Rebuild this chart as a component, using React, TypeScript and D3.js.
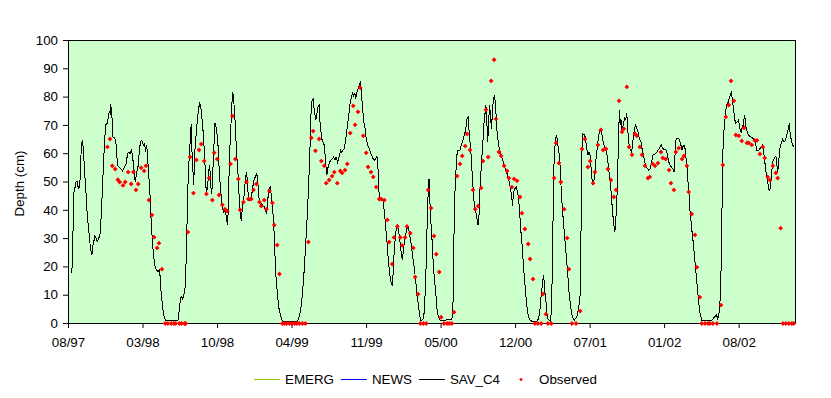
import React, { useEffect, useRef } from 'react';
import * as d3 from 'd3';

// day 0 of the record (27 Aug 1997); all day numbers below count from here
const startDay = Date.UTC(1997, 7, 27);
const lastDay = 1961;
const tickEvery = 201;

// simulated depth (cm): EMERG, NEWS and SAV_C4 coincide at this scale
const simulated: [number, number][] = [
  [9,17.9],[11,24.6],[13,38.2],[14,45.9],[17,47.6],[20,50.0],[23,50.2],[26,48.2],[28,47.4],[31,50.4],[32,55.9],[35,62.4],[37,64.7],[40,61.8],[43,54.7],[47,46.5],[50,39.4],[55,32.3],[59,27.0],[63,24.1],[66,27.6],[68,28.8],[71,30.8],[74,30.2],[77,29.0],[81,29.7],[85,31.7],[88,37.6],[92,48.8],[95,58.3],[98,65.9],[101,70.3],[104,70.6],[107,72.4],[110,74.8],[113,74.2],[114,77.4],[117,73.6],[120,65.9],[125,65.6],[129,63.0],[132,55.9],[137,55.3],[141,54.7],[146,53.9],[151,55.3],[156,56.5],[159,60.0],[163,60.6],[166,60.0],[170,61.2],[173,58.8],[176,55.3],[180,50.0],[184,53.5],[187,54.7],[191,60.6],[194,64.2],[198,64.7],[202,63.0],[205,63.6],[208,60.6],[211,63.2],[213,59.4],[216,53.5],[220,45.3],[223,35.8],[227,27.6],[230,23.5],[234,19.9],[238,18.8],[242,18.4],[246,19.1],[248,14.0],[251,9.3],[254,5.8],[257,2.8],[261,1.3],[265,0.9],[295,0.9],[298,4.0],[301,7.5],[304,9.7],[308,8.7],[311,9.9],
  [315,12.9],[318,25.2],[321,42.9],[323,52.4],[326,59.4],[329,66.5],[331,70.6],[332,63.0],[335,57.0],[337,48.8],[339,53.5],[341,61.2],[344,66.5],[348,72.4],[351,75.9],[354,78.1],[357,76.5],[360,72.4],[364,66.5],[368,57.0],[370,48.8],[373,46.5],[376,50.0],[379,54.7],[381,55.9],[383,50.0],[385,47.1],[386,45.9],[388,48.8],[391,59.4],[394,67.7],[395,71.0],[398,69.5],[401,66.5],[404,61.8],[407,52.4],[411,46.5],[414,41.7],[418,39.4],[422,40.0],[425,38.2],[429,34.7],[431,40.6],[433,52.4],[436,64.2],[439,72.4],[441,78.3],[443,81.8],[446,78.3],[449,72.4],[451,66.5],[454,59.4],[458,51.2],[461,42.9],[464,38.2],[466,36.4],[468,39.4],[471,42.9],[475,46.5],[477,51.2],[480,53.5],[483,50.0],[485,44.1],[488,43.5],[491,44.1],[494,45.3],[497,48.2],[501,51.2],[504,51.8],[508,52.9],[511,49.4],[513,45.3],[517,41.7],[520,42.3],[524,41.7],[528,41.2],[531,40.0],[534,38.8],[537,42.9],[540,47.1],[544,48.2],[547,45.3],[549,42.9],[552,38.2],[555,31.1],[557,24.1],[560,15.8],[564,9.9],[567,5.8],[572,2.8],[576,1.1],[581,0.7],[617,0.7],[621,1.7],[625,4.0],[629,7.5],[632,12.3],[636,19.3],[639,26.4],[643,35.8],[647,46.5],[650,57.0],
  [653,68.0],[655,78.3],[658,78.9],[660,79.5],[662,76.5],[665,73.6],[667,71.8],[670,74.2],[673,76.5],[676,77.1],[677,73.6],[680,68.9],[683,65.3],[686,64.2],[690,63.0],[693,58.3],[695,54.7],[697,52.4],[699,54.7],[702,55.9],[704,57.0],[708,57.7],[712,58.3],[715,58.8],[719,57.7],[722,58.8],[726,57.0],[729,58.3],[731,59.4],[734,61.2],[737,60.6],[740,61.2],[744,61.8],[747,64.2],[749,66.5],[753,70.6],[757,74.8],[760,78.3],[764,80.1],[766,81.8],[769,80.1],[772,81.5],[775,79.5],[777,81.3],[780,82.4],[783,83.6],[785,84.8],[788,85.4],[790,81.8],[793,76.5],[796,71.8],[800,68.9],[803,65.3],[807,63.0],[811,61.8],[814,60.6],[818,59.4],[821,58.3],[825,57.7],[829,58.3],[832,59.2],[834,57.1],[836,51.2],[838,45.3],[839,43.5],[842,44.1],[846,44.1],[849,42.9],[853,38.2],[856,33.5],[860,27.6],[863,21.7],[865,19.3],[868,15.8],[871,14.0],[874,13.2],[876,19.3],[879,26.4],[882,31.1],[884,33.5],[887,34.7],[890,32.9],[892,31.1],[895,28.2],[898,24.1],[901,22.3],[903,25.8],[906,28.8],[909,31.1],[911,32.3],[914,34.1],[917,34.1],[919,32.3],[922,30.0],[926,26.4],[929,22.9],[933,19.3],[937,14.6],[940,9.9],[944,6.4],[947,2.8],[951,0.9],[958,1.7],[961,7.5],[964,17.0],[966,28.8],[969,41.7],[971,50.0],[973,51.2],[974,45.3],[977,37.0],[981,28.8],[984,20.5],[988,14.6],
  [992,8.7],[994,5.2],[997,2.8],[1000,1.7],[1003,0.9],[1020,1.3],[1034,1.3],[1037,5.2],[1038,17.0],[1040,32.3],[1042,45.3],[1045,53.5],[1047,58.3],[1049,61.2],[1056,61.2],[1059,63.0],[1063,64.2],[1066,65.9],[1070,67.7],[1073,70.0],[1075,72.4],[1078,72.8],[1080,68.9],[1083,64.2],[1086,59.4],[1089,52.4],[1092,46.5],[1094,42.9],[1097,40.6],[1102,37.0],[1105,34.7],[1108,39.4],[1110,47.6],[1113,54.7],[1116,60.6],[1119,66.5],[1121,71.2],[1124,74.8],[1126,77.1],[1128,72.4],[1131,64.2],[1133,71.2],[1136,77.1],[1138,73.6],[1141,68.9],[1144,75.9],[1146,78.9],[1149,80.7],[1151,78.3],[1154,72.4],[1156,67.7],[1159,64.2],[1162,61.8],[1167,59.4],[1174,56.5],[1178,54.7],[1182,53.5],[1185,51.8],[1189,50.0],[1192,47.6],[1195,45.3],[1198,41.7],[1200,45.9],[1203,47.6],[1208,48.2],[1211,46.5],[1214,44.1],[1217,39.4],[1219,34.7],[1222,30.0],[1225,25.2],[1227,20.5],[1230,15.8],[1233,11.1],[1236,6.4],[1240,2.8],[1245,1.1],[1250,0.8],[1263,0.8],[1268,1.7],[1272,5.2],[1275,9.9],[1279,14.6],[1281,17.0],[1283,15.2],[1285,11.1],[1288,7.5],[1290,4.0],[1293,1.7],[1300,0.8],[1303,5.2],[1305,19.3],[1307,37.0],[1308,51.2],[1311,60.6],[1314,65.3],[1317,66.5],[1319,64.2],[1322,61.2],[1325,58.3],
  [1328,50.0],[1331,42.9],[1335,35.8],[1338,31.1],[1341,26.4],[1344,21.7],[1347,17.0],[1349,12.3],[1352,8.7],[1355,5.8],[1357,3.4],[1360,2.2],[1364,1.1],[1367,1.7],[1371,2.2],[1374,4.0],[1377,6.4],[1380,9.9],[1382,24.1],[1383,42.9],[1385,60.6],[1387,67.1],[1391,66.7],[1394,65.9],[1398,61.8],[1401,59.4],[1404,60.6],[1407,59.4],[1409,55.9],[1412,51.2],[1415,48.8],[1418,51.2],[1420,53.5],[1423,58.3],[1427,63.0],[1430,66.5],[1434,68.3],[1436,69.1],[1439,66.5],[1442,64.2],[1446,62.4],[1449,61.2],[1453,59.4],[1456,55.9],[1459,52.4],[1462,50.0],[1464,45.3],[1467,40.6],[1470,35.8],[1473,32.9],[1475,33.5],[1478,40.6],[1481,50.0],[1483,63.0],[1486,75.4],[1488,70.0],[1490,72.4],[1492,68.9],[1495,69.5],[1498,71.2],[1500,73.0],[1503,71.8],[1506,74.2],[1509,67.7],[1511,64.2],[1514,61.8],[1517,61.2],[1519,60.6],[1522,64.2],[1525,67.1],[1527,68.9],[1530,70.0],[1533,68.9],[1536,67.7],[1540,65.3],[1544,64.2],[1547,61.8],[1551,59.4],[1554,57.1],[1558,55.3],[1562,54.7],[1565,54.1],[1569,54.7],[1572,56.5],[1576,59.4],[1583,60.0],[1587,60.6],[1590,61.2],[1594,61.8],[1597,63.0],[1599,63.2],[1602,61.8],[1606,61.6],[1613,61.2],[1616,59.4],[1619,57.1],[1623,55.9],[1626,55.3],[1630,54.7],[1634,53.5],[1636,59.4],[1639,65.3],[1646,65.3],
  [1649,64.4],[1652,63.0],[1655,61.2],[1657,62.4],[1660,63.0],[1663,61.8],[1665,59.4],[1668,55.9],[1671,50.0],[1674,45.3],[1676,40.6],[1681,33.5],[1685,28.8],[1690,21.7],[1694,15.8],[1699,8.7],[1703,4.0],[1708,1.1],[1735,1.1],[1739,1.7],[1744,2.5],[1748,3.1],[1751,1.7],[1754,2.8],[1756,5.2],[1759,11.1],[1761,25.2],[1763,42.9],[1764,54.7],[1766,64.2],[1769,70.0],[1772,73.6],[1774,76.5],[1777,77.7],[1780,78.3],[1782,79.5],[1785,80.7],[1788,81.6],[1791,78.9],[1793,76.5],[1796,73.6],[1799,70.6],[1804,71.2],[1807,71.8],[1809,70.6],[1812,68.3],[1815,67.7],[1818,70.0],[1820,68.9],[1823,73.6],[1826,71.8],[1828,68.9],[1834,66.5],[1841,65.9],[1848,65.3],[1852,64.2],[1854,63.0],[1857,61.2],[1862,61.2],[1865,61.8],[1872,63.0],[1875,60.6],[1878,57.7],[1880,54.7],[1883,52.4],[1886,50.0],[1889,47.6],[1891,46.7],[1894,48.8],[1897,53.5],[1899,57.1],[1905,58.8],[1908,59.2],[1910,57.1],[1913,53.5],[1916,57.7],[1918,61.2],[1921,63.0],[1924,64.2],[1926,65.1],[1929,64.4],[1932,64.2],[1935,65.1],[1937,66.5],[1940,67.7],[1943,70.0],[1944,70.3],[1946,67.7],[1949,65.3],[1952,63.6],[1954,63.0],[1957,62.4],
];

// observed depth (cm)
const observed: [number, number][] = [
  [105,62.4],[112,65.2],[118,55.7],[126,54.6],[133,50.8],[138,50.0],[147,48.8],[153,50.0],[161,53.5],[169,49.3],[175,53.5],[182,47.2],[188,49.3],[196,55.0],[204,53.9],[209,55.7],[217,43.6],[225,38.3],[231,30.5],[239,26.7],[244,28.4],[252,19.2],[261,0],[268,0],[277,0],[284,0],[289,0],[299,0],[305,0],[313,0],[316,0],
  [322,32.3],[328,58.8],[337,46.1],[345,57.8],[352,61.3],[358,63.4],[366,57.4],[372,45.8],[379,51.4],[388,43.6],[393,60.3],[401,58.1],[406,45.4],[415,41.9],[422,40.4],[428,39.7],[437,56.4],[442,73.3],[450,58.1],[458,51.1],[463,40.1],[472,42.9],[480,50.0],[485,44.0],[493,44.0],[499,47.2],[507,49.3],[515,42.9],[520,41.5],[528,43.6],[534,40.4],[542,46.8],[550,42.6],[555,34.8],[563,27.7],[569,17.5],[577,0],[582,0],[588,0],[596,0],[603,0],[610,0],[616,0],[623,0],[631,0],[639,0],
  [647,28.8],[655,65.6],[660,68.0],[666,61.0],[676,65.2],[682,57.4],[690,55.7],[695,49.6],[703,50.7],[711,52.1],[717,53.5],[725,49.6],[733,53.9],[738,53.2],[746,54.2],[752,56.4],[760,67.3],[768,76.9],[773,70.2],[781,74.8],[787,83.3],[795,66.3],[803,60.3],[808,55.3],[816,53.5],[822,51.8],[830,48.2],[838,44.0],[843,44.0],[852,43.6],[860,36.6],[865,28.8],[873,21.0],[878,30.4],[887,34.3],[895,30.4],[900,27.6],[908,30.4],[913,34.3],[922,31.9],[930,26.7],[935,16.4],[943,10.4],[949,0],[957,0],[965,0],
  [970,47.2],[978,40.8],[986,30.9],[992,24.5],[1000,18.2],[1005,2.2],[1013,0],[1021,0],[1027,0],[1034,0],[1040,4.0],[1048,52.1],[1056,56.4],[1062,59.2],[1070,62.7],[1075,67.0],[1083,61.3],[1091,47.2],[1097,40.4],[1105,41.5],[1113,47.9],[1118,57.4],[1126,75.5],[1132,58.8],[1140,85.7],[1148,93.2],[1153,72.3],[1161,60.6],[1167,59.2],[1175,55.7],[1183,53.9],[1188,51.4],[1196,48.2],[1202,51.1],[1210,50.4],[1218,44.7],[1223,39.0],[1231,33.4],[1240,28.1],[1245,22.8],[1253,15.7],[1258,0],[1266,0],[1275,0],[1280,10.4],[1288,3.3],[1293,0],[1302,0],
  [1310,51.4],[1315,63.8],[1323,56.7],[1328,50.0],[1337,40.4],[1345,30.2],[1350,19.2],[1358,0],[1369,0],[1380,4.4],[1385,61.7],[1393,65.2],[1401,55.3],[1407,57.4],[1415,49.6],[1420,53.5],[1428,63.1],[1436,68.4],[1442,61.3],[1450,61.7],[1455,54.6],[1463,50.7],[1471,44.7],[1477,47.2],[1485,78.7],[1493,67.7],[1498,68.8],[1506,83.6],[1512,62.4],[1520,59.6],[1528,67.0],[1533,66.3],[1541,62.4],[1547,59.6],[1555,55.7],[1563,51.4],[1568,51.8],[1576,56.4],[1582,55.7],[1590,56.7],[1598,60.6],[1603,58.5],[1611,58.1],[1620,54.2],[1625,49.6],[1633,47.2],[1638,60.6],[1646,62.0],
  [1655,58.1],[1660,59.2],[1668,55.7],[1673,46.5],[1681,38.7],[1690,31.3],[1695,19.9],[1703,9.3],[1708,0],[1717,0],[1725,0],[1730,0],[1738,0],[1749,0],[1760,6.5],[1765,56.0],[1773,73.0],[1781,77.2],[1787,85.7],[1795,78.7],[1800,66.6],[1808,66.3],[1816,64.5],[1822,69.1],[1830,63.8],[1835,63.8],[1843,63.1],[1851,64.7],[1857,64.7],[1865,59.9],[1873,62.4],[1878,58.5],[1886,51.8],[1892,50.7],[1900,55.7],[1908,53.2],[1913,51.4],[1921,33.7],[1927,0],[1935,0],[1943,0],[1951,0],[1956,0],
];

const lineSeries = [
  { name: 'EMERG', color: '#99cc00' },
  { name: 'NEWS', color: '#0000ff' },
  { name: 'SAV_C4', color: '#000000' },
];
const yTicks = [0, 10, 20, 30, 40, 50, 60, 70, 80, 90, 100];

const FONT = '"Liberation Sans", Arial, sans-serif';
const toDate = (d: number) => new Date(startDay + d * 864e5);

function DepthChart() {
  const ref = useRef<SVGSVGElement>(null);

  useEffect(() => {
    const svg = d3.select(ref.current);
    svg.selectAll('*').remove();

    const left = 68, right = 795, top = 40, bottom = 323;

    const x = d3.scaleUtc().domain([toDate(0), toDate(lastDay)]).range([left, right]);
    const y = d3.scaleLinear().domain([0, 100]).range([bottom, top]);

    svg.append('rect')
      .attr('x', left).attr('y', top)
      .attr('width', right - left).attr('height', bottom - top)
      .attr('fill', '#ccffcc');

    const line = d3.line<[number, number]>()
      .x(d => x(toDate(d[0])) + 0.5)
      .y(d => y(d[1]) + 0.5);

    lineSeries.forEach(s => {
      svg.append('path')
        .datum(simulated)
        .attr('d', line)
        .attr('fill', 'none')
        .attr('stroke', s.color)
        .attr('stroke-width', 1)
        .attr('shape-rendering', 'crispEdges');
    });

    const tickDates = d3.range(0, lastDay, tickEvery).map(toDate);
    const gx = svg.append('g')
      .attr('transform', `translate(0,${bottom})`)
      .call(d3.axisBottom(x).tickValues(tickDates).tickFormat(d3.utcFormat('%m/%y') as any)
        .tickSize(5).tickSizeOuter(0).tickPadding(10));
    const gy = svg.append('g')
      .attr('transform', `translate(${left},0)`)
      .call(d3.axisLeft(y).tickValues(yTicks).tickSize(5).tickSizeOuter(0).tickPadding(5));
    [gx, gy].forEach(g => {
      g.attr('font-family', FONT).attr('font-size', 13.33);
      g.selectAll('text').attr('fill', '#000');
      g.selectAll('line,path').attr('stroke', '#000');
    });

    svg.append('rect')
      .attr('x', left + 0.5).attr('y', top + 0.5)
      .attr('width', right - left).attr('height', bottom - top)
      .attr('fill', 'none').attr('stroke', '#000');

    const diamond = (r: number) => `M0,${-r}L${r},0L0,${r}L${-r},0Z`;

    svg.append('g')
      .selectAll('path')
      .data(observed)
      .join('path')
      .attr('transform', d => `translate(${x(toDate(d[0])) + 0.5},${y(d[1]) + 0.5})`)
      .attr('d', diamond(2.4))
      .attr('fill', '#ff0000');

    svg.append('text')
      .attr('transform', `translate(24,${(top + bottom) / 2 + 2}) rotate(-90)`)
      .attr('text-anchor', 'middle')
      .attr('font-family', FONT).attr('font-size', 13.33)
      .text('Depth (cm)');

    // legend
    const legend = svg.append('g').attr('font-family', FONT).attr('font-size', 13.33);
    const legendY = 379;
    let cursor = 254;
    const items = [...lineSeries.map(s => ({ ...s, marker: false })), { name: 'Observed', color: '#ff0000', marker: true }];
    items.forEach(item => {
      if (item.marker) {
        legend.append('path')
          .attr('transform', `translate(${cursor + 14},${legendY + 0.5})`)
          .attr('d', diamond(1.8))
          .attr('fill', item.color);
      } else {
        legend.append('line')
          .attr('x1', cursor).attr('x2', cursor + 26)
          .attr('y1', legendY + 0.5).attr('y2', legendY + 0.5)
          .attr('stroke', item.color);
      }
      const t = legend.append('text')
        .attr('x', item.marker ? cursor + 32 : cursor + 31)
        .attr('y', legendY + 5)
        .text(item.name);
      const w = (t.node() as SVGTextElement).getComputedTextLength();
      cursor = (item.marker ? cursor + 32 : cursor + 31) + w + 7;
    });
  }, []);

  return (
    <svg ref={ref} width={831} height={398}
      style={{ position: 'absolute', left: 0, top: 0, background: '#fff' }} />
  );
}

export default function App() {
  return <DepthChart />;
}
